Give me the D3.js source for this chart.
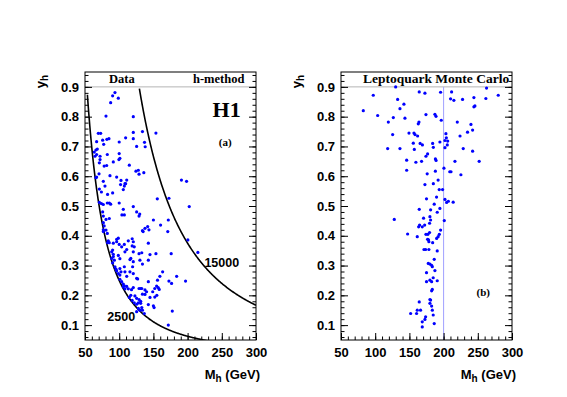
<!DOCTYPE html>
<html>
<head>
<meta charset="utf-8">
<script src="https://cdn.jsdelivr.net/npm/d3@7"></script>
<style>
  body { margin: 0; background: #fff; }
  svg { display: block; }
  .tick text { font-family: "Liberation Sans", Arial, sans-serif; font-weight: bold; font-size: 13px; fill: #000; }
  .domain { display: none; }
</style>
</head>
<body>
<svg id="chart" width="567" height="397"></svg>
<script>
// panel (a): data, h-method
const dataM = [93.8, 90.4, 98.7, 87.5, 80.7, 120.6, 153.7, 120.6, 134, 69.5, 72.9, 85, 82, 75.8, 67, 100,
  109.4, 120.6, 137, 125.5, 138, 77.3, 66, 68, 63.6, 67, 64.6, 72, 82.6, 100, 101, 99.6, 91.4, 72, 71,
  78, 81.7, 114.8, 124.5, 128, 129, 136, 191, 198.5, 67, 70.5, 66, 86.5, 96.3, 102.6, 108.4, 111, 76.8,
  79.2, 71, 74, 102, 106, 107.5, 109.4, 90.4, 83, 155.7, 172.7,
  71, 74, 76.8, 82.6, 85.5, 87.5, 100, 106, 107.5, 104, 120.6, 202.4, 75.8, 76.8, 80.7, 85.5, 125.5, 130,
  129, 150, 171.8, 171, 160.5, 141.6, 137.7, 143.5, 134, 135, 76.8, 78, 76.8, 80.7, 76.8, 82.6, 142.6,
  200.4, 215, 176, 153.7, 84, 85.5, 83, 91.4, 96.3, 98.7, 96.3, 100, 103.6, 107.5, 113.3, 119, 120.6,
  119, 111, 108.4, 120.6, 122, 129, 133, 145, 142.6, 90.4, 89, 91.4, 91.4, 89, 92.9, 90.4, 98.7, 101,
  117, 115.7, 120.6, 130.3, 134, 93.8, 95.3, 96.3, 101, 102.6, 98.7, 101, 107.5, 108.4, 115.7, 120.6,
  119.6, 111, 125.5, 127, 163.5, 159.5, 184, 172.7, 176.6, 197, 142.6, 156, 154.7, 152, 157, 158.5, 101,
  103.6, 106, 106, 107.5, 111, 113.3, 108.4, 120.6, 118, 129, 131.4, 133, 137.7, 140, 149, 134, 137.7,
  145, 117, 123, 114.8, 152, 155, 125.5, 129, 131.4, 128, 125.5, 131.4, 119, 122, 150, 151, 142.6, 133,
  134, 128, 130.3, 136.7, 125.5, 177.6, 171.8];
const dataY = [0.881, 0.87, 0.862, 0.847, 0.802, 0.8, 0.745, 0.747, 0.75, 0.744, 0.744, 0.726, 0.724,
  0.721, 0.716, 0.715, 0.729, 0.726, 0.714, 0.7, 0.699, 0.707, 0.688, 0.691, 0.681, 0.673, 0.667, 0.667,
  0.673, 0.676, 0.66, 0.656, 0.648, 0.656, 0.645, 0.634, 0.636, 0.637, 0.617, 0.62, 0.607, 0.612, 0.587,
  0.583, 0.597, 0.608, 0.595, 0.602, 0.597, 0.586, 0.575, 0.587, 0.583, 0.567, 0.557, 0.547, 0.572,
  0.555, 0.567, 0.575, 0.544, 0.539, 0.524, 0.526,
  0.512, 0.508, 0.505, 0.51, 0.51, 0.506, 0.51, 0.489, 0.47, 0.47, 0.498, 0.498, 0.48, 0.466, 0.455,
  0.458, 0.48, 0.473, 0.466, 0.453, 0.453, 0.414, 0.436, 0.431, 0.425, 0.42, 0.417, 0.414, 0.444, 0.433,
  0.42, 0.419, 0.414, 0.408, 0.375, 0.386, 0.344, 0.34, 0.34, 0.383, 0.377, 0.377, 0.375, 0.388, 0.392,
  0.38, 0.371, 0.363, 0.371, 0.383, 0.39, 0.38, 0.366, 0.354, 0.346, 0.346, 0.363, 0.34, 0.343, 0.337,
  0.318, 0.352, 0.346, 0.338, 0.33, 0.324, 0.318, 0.309, 0.334, 0.323, 0.324, 0.32, 0.313, 0.318, 0.305,
  0.296, 0.288, 0.282, 0.29, 0.279, 0.273, 0.268, 0.296, 0.279, 0.279, 0.273, 0.296, 0.264, 0.257, 0.255,
  0.279, 0.264, 0.264, 0.248, 0.24, 0.248, 0.246, 0.251, 0.231, 0.223, 0.226, 0.22, 0.254, 0.246, 0.238,
  0.229, 0.232, 0.23, 0.222, 0.222, 0.226, 0.219, 0.223, 0.223, 0.223, 0.218, 0.212, 0.212, 0.204, 0.203,
  0.193, 0.2, 0.198, 0.193, 0.194, 0.2, 0.19, 0.186, 0.18, 0.175, 0.17, 0.173, 0.183, 0.175, 0.165, 0.159,
  0.169, 0.159, 0.15, 0.156, 0.15, 0.139, 0.145, 0.147, 0.1];

// panel (b): leptoquark Monte Carlo
const mcM = [129.9, 164.4, 172.7, 195.6, 211.7, 262.8, 97.2, 279.9, 132.8, 142, 136.2, 210.2, 215, 227.7,
  244.3, 261.8, 245.8, 244.3, 82.6, 103.6, 126.5, 143.5, 119.2, 174.2, 187.3, 188.9, 164, 163, 196.6,
  220, 240, 235, 242.4, 149.4, 156.7, 158.2, 162, 125.5, 203.4, 204, 202, 206, 205.4, 202, 194.6, 184,
  169, 165.7, 155.7, 224, 118.2, 136.2, 157.2, 185, 228.7, 242.4, 176.6, 174.2, 146, 159.5, 167.8, 188,
  189, 216.6, 252, 200.5, 209, 210.8, 146, 188, 225.3, 176, 192, 185, 172.7, 193.6, 198.5, 189.7, 175,
  202, 207, 214, 204.4, 186.3,
  164.4, 181, 194.6, 190.7, 127.9, 170.7, 180, 181, 201, 164.9, 163.5, 168.8, 172.3, 179.5, 179.5, 177,
  195.6, 193.7, 189.8, 192, 147.4, 161.5, 174.2, 176.6, 178, 178.5, 184, 171.3, 173.7, 178.5, 190.7,
  186.3, 177.6, 180, 182.5, 183.5, 187.3, 175, 180, 182.5, 175, 190.7, 184.8, 183.5, 182.5, 180, 181,
  164.4, 180, 182.5, 183.5, 161.5, 166.3, 160.5, 151.8, 173.7, 184.8, 168.8, 172.7, 186.3, 168.8];
const mcY = [0.9, 0.883, 0.879, 0.882, 0.883, 0.896, 0.872, 0.872, 0.858, 0.842, 0.827, 0.86, 0.855,
  0.858, 0.864, 0.861, 0.836, 0.833, 0.82, 0.804, 0.797, 0.795, 0.782, 0.807, 0.808, 0.801, 0.782, 0.776,
  0.788, 0.782, 0.774, 0.748, 0.755, 0.745, 0.745, 0.74, 0.735, 0.74, 0.743, 0.729, 0.72, 0.718, 0.705,
  0.696, 0.715, 0.71, 0.705, 0.71, 0.711, 0.735, 0.693, 0.693, 0.69, 0.697, 0.693, 0.684, 0.675, 0.667,
  0.654, 0.647, 0.65, 0.658, 0.653, 0.65, 0.65, 0.627, 0.615, 0.615, 0.62, 0.617, 0.605, 0.608, 0.587,
  0.575, 0.572, 0.555, 0.555, 0.53, 0.524, 0.522, 0.516, 0.513, 0.512, 0.506,
  0.489, 0.487, 0.492, 0.479, 0.455, 0.459, 0.464, 0.453, 0.451, 0.436, 0.43, 0.43, 0.436, 0.442, 0.411,
  0.405, 0.419, 0.405, 0.391, 0.397, 0.406, 0.397, 0.405, 0.388, 0.386, 0.38, 0.377, 0.354, 0.354, 0.354,
  0.349, 0.321, 0.307, 0.305, 0.301, 0.296, 0.283, 0.276, 0.251, 0.246, 0.246, 0.249, 0.259, 0.22, 0.215,
  0.186, 0.184, 0.178, 0.173, 0.164, 0.15, 0.15, 0.15, 0.139, 0.139, 0.128, 0.134, 0.111, 0.119, 0.105,
  0.094];

// lines of constant Q2 = M^2 y (GeV^2), with the mass where each one starts
const q2Values = [2500, 15000];
const q2StartM = [53.5, 129.5];
const q2LabelM = [103, 250];
const q2LabelY = [0.13, 0.31];

const xTicks = [50, 100, 150, 200, 250, 300];
const yTicks = [0.1, 0.2, 0.3, 0.4, 0.5, 0.6, 0.7, 0.8, 0.9];

const svg = d3.select("#chart");
const serif = "'Liberation Serif', 'Times New Roman', serif";
const sans = "'Liberation Sans', Arial, sans-serif";

const y = d3.scaleLinear().domain([0.05, 0.95]).range([340, 72]);

function drawPanel(x0, ms, ys, opts) {
  const x = d3.scaleLinear().domain([50, 300]).range([x0, x0 + 171]);
  const g = svg.append("g");
  const [left, right] = x.range();
  const [bottom, top] = y.range();

  g.append("rect")
    .attr("x", left).attr("y", top)
    .attr("width", right - left).attr("height", bottom - top)
    .attr("fill", "#fff");

  // header separator at y = 0.9
  g.append("line")
    .attr("x1", left).attr("x2", right)
    .attr("y1", y(0.9)).attr("y2", y(0.9))
    .attr("stroke", "#b4b4b4").attr("stroke-width", 1);

  if (opts.vline) {
    g.append("line")
      .attr("x1", x(opts.vline)).attr("x2", x(opts.vline))
      .attr("y1", bottom).attr("y2", y(0.9))
      .attr("stroke", "#a0a0ff").attr("stroke-width", 1);
  }

  g.append("defs").append("clipPath").attr("id", "clip" + x0)
    .append("rect")
    .attr("x", left).attr("y", top)
    .attr("width", right - left).attr("height", bottom - top);

  if (opts.curves) {
    const line = d3.line().x(d => x(d[0])).y(d => y(d[1]));
    q2Values.forEach((q2, i) => {
      const pts = d3.range(q2StartM[i], 300.5, 0.5).map(m => [m, q2 / (m * m)]);
      g.append("path")
        .attr("clip-path", `url(#clip${x0})`)
        .attr("d", line(pts))
        .attr("fill", "none")
        .attr("stroke", "#000")
        .attr("stroke-width", 1.6);
      g.append("text")
        .attr("x", x(q2LabelM[i])).attr("y", y(q2LabelY[i]))
        .attr("text-anchor", "middle")
        .attr("dy", "0.35em")
        .style("font-family", sans).style("font-weight", "bold").style("font-size", "12.5px")
        .text(q2);
    });
  }

  g.append("g")
    .selectAll("circle")
    .data(ms.map((m, i) => [m, ys[i]]))
    .join("circle")
    .attr("cx", d => x(d[0]))
    .attr("cy", d => y(d[1]))
    .attr("r", 1.6)
    .attr("fill", "#0000ff");

  // axes with ticks pointing into the frame
  const minorY = d3.range(0.06, 0.95, 0.02);
  const minorX = d3.range(50, 301, 10);
  g.append("g").attr("transform", `translate(${left},0)`)
    .call(d3.axisLeft(y).tickValues(minorY).tickSize(-3.5).tickFormat(""));
  g.append("g").attr("transform", `translate(${left},0)`)
    .call(d3.axisLeft(y).tickValues(yTicks).tickSize(-7).tickPadding(6).tickFormat(d3.format(".1f")));
  g.append("g").attr("transform", `translate(${right},0)`)
    .call(d3.axisRight(y).tickValues(minorY).tickSize(-3.5).tickFormat(""));
  g.append("g").attr("transform", `translate(${right},0)`)
    .call(d3.axisRight(y).tickValues(yTicks).tickSize(-7).tickFormat(""));
  g.append("g").attr("transform", `translate(0,${bottom})`)
    .call(d3.axisBottom(x).tickValues(minorX).tickSize(-3.5).tickFormat(""));
  g.append("g").attr("transform", `translate(0,${bottom})`)
    .call(d3.axisBottom(x).tickValues(xTicks).tickSize(-7).tickPadding(8));
  g.selectAll(".tick line").attr("stroke", "#000");

  g.append("rect")
    .attr("x", left).attr("y", top)
    .attr("width", right - left).attr("height", bottom - top)
    .attr("fill", "none").attr("stroke", "#000").attr("stroke-width", 1);

  // header texts
  opts.header.forEach(h => {
    g.append("text")
      .attr("x", x(h.m)).attr("y", 83)
      .attr("text-anchor", h.anchor)
      .style("font-family", serif).style("font-weight", "bold").style("font-size", h.size)
      .text(h.text);
  });

  opts.notes.forEach(n => {
    g.append("text")
      .attr("x", x(n.m)).attr("y", y(n.y))
      .attr("text-anchor", "middle").attr("dy", "0.35em")
      .style("font-family", serif).style("font-weight", "bold").style("font-size", n.size)
      .text(n.text);
  });

  // axis titles
  const xt = g.append("text")
    .attr("x", right + 4).attr("y", 379)
    .attr("text-anchor", "end")
    .style("font-family", sans).style("font-weight", "bold").style("font-size", "13px");
  xt.append("tspan").text("M");
  xt.append("tspan").attr("dy", 3).style("font-size", "10px").text("h");
  xt.append("tspan").attr("dy", -3).text(" (GeV)");

  const yt = g.append("text")
    .attr("transform", `translate(${left - 40},${top + 3}) rotate(-90)`)
    .attr("text-anchor", "end")
    .style("font-family", sans).style("font-weight", "bold").style("font-size", "13px");
  yt.append("tspan").text("y");
  yt.append("tspan").attr("dy", 3).style("font-size", "10px").text("h");
}

drawPanel(85, dataM, dataY, {
  curves: true,
  header: [{ text: "Data", m: 104, anchor: "middle", size: "12.5px" },
    { text: "h-method", m: 283, anchor: "end", size: "12.5px" }],
  notes: [{ text: "H1", m: 257, y: 0.826, size: "22px" }, { text: "(a)", m: 255, y: 0.714, size: "11px" }]
});
drawPanel(341, mcM, mcY, {
  vline: 200,
  header: [{ text: "Leptoquark Monte Carlo", m: 189, anchor: "middle", size: "13.5px" }],
  notes: [{ text: "(b)", m: 258, y: 0.211, size: "11px" }]
});
</script>
</body>
</html>
